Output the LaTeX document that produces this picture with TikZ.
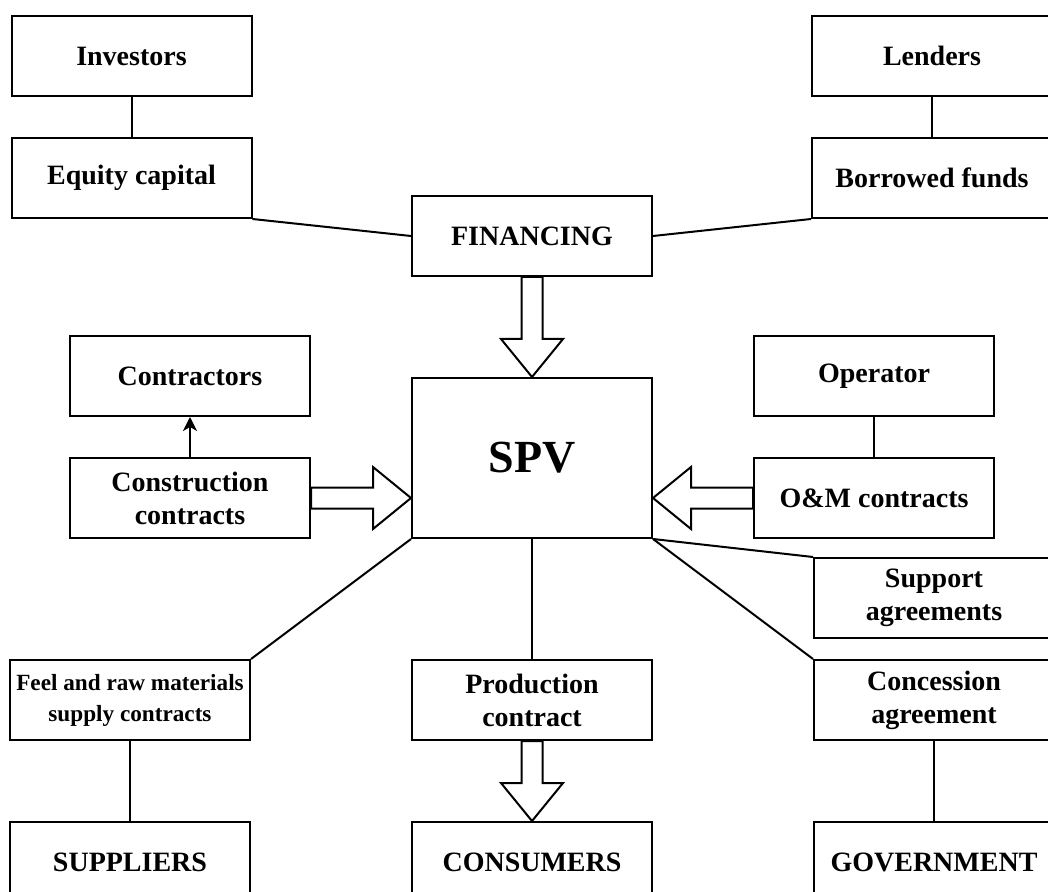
\documentclass[tikz,border=0pt]{standalone}
\usepackage{fontspec}
\setmainfont{Liberation Serif}
\usetikzlibrary{positioning,calc,arrows.meta}

\begin{document}
\begin{tikzpicture}[
        box/.style={rectangle, draw, line width=1pt, minimum width=120pt, minimum height=40pt, align=center, font=\bfseries\fontsize{14}{16.5}\selectfont},
        link/.style={line width=1pt},
        arrow/.style={-{Stealth[length=7pt, width=7pt, inset=2pt]}, line width=1pt},
        fat/.style={draw, fill=white, line width=1pt, to path={
            let \p1=(\tikztostart), \p2=(\tikztotarget),
                \n1={veclen(\x2-\x1,\y2-\y1)},
                \n2={(\x2-\x1)/\n1}, \n3={(\y2-\y1)/\n1}
            in ({\x1-(\n3)*5.25},{\y1+(\n2)*5.25})
            -- ({\x2-(\n2)*19-(\n3)*5.25},{\y2-(\n3)*19+(\n2)*5.25})
            -- ({\x2-(\n2)*19-(\n3)*15.5},{\y2-(\n3)*19+(\n2)*15.5})
            -- (\x2,\y2)
            -- ({\x2-(\n2)*19+(\n3)*15.5},{\y2-(\n3)*19-(\n2)*15.5})
            -- ({\x2-(\n2)*19+(\n3)*5.25},{\y2-(\n3)*19-(\n2)*5.25})
            -- ({\x1+(\n3)*5.25},{\y1-(\n2)*5.25}) -- cycle}}
    ]
        \useasboundingbox (0,0) rectangle (524pt,-446pt);
        \clip (0,0) rectangle (524pt,-446pt);
        % Financing
        \node[box] (inv) at (65.75pt,-28pt) {Investors};
        \node[box, below=20pt of inv] (equity) {Equity capital};
        \node[box] (lend) at (466pt,-28pt) {Lenders};
        \node[box, below=20pt of lend] (borrow) {Borrowed funds};
        \node[box] (fin) at (266pt,-118pt) {FINANCING};
        % SPV
        \node[box, below=50pt of fin, minimum height=80pt, font=\bfseries\fontsize{23}{27}\selectfont] (spv) {SPV};
        % Construction and operation
        \node[box, left=50pt of spv.south west, anchor=south east] (constr) {Construction\\contracts};
        \node[box, above=20pt of constr] (contr) {Contractors};
        \node[box, right=50pt of spv.south east, anchor=south west] (om) {O\&M contracts};
        \node[box, above=20pt of om] (oper) {Operator};
        % Contracts
        \node[box, below=60pt of spv] (prod) {Production\\contract};
        \node[box, left=80pt of prod, inner xsep=0pt, font=\bfseries\fontsize{11.6}{15.5}\selectfont] (feel) {Feel and raw materials\\supply contracts};
        \node[box, right=80pt of prod] (conc) {Concession\\agreement};
        \node[box, above=10pt of conc] (support) {Support\\agreements};
        % Parties
        \node[box, below=40pt of feel] (suppl) {SUPPLIERS};
        \node[box, below=40pt of prod] (consum) {CONSUMERS};
        \node[box, below=40pt of conc] (gov) {GOVERNMENT};
        % Links
        \draw[link] (inv) -- (equity);
        \draw[link] (lend) -- (borrow);
        \draw[link] (equity.south east) -- (fin.west);
        \draw[link] (borrow.south west) -- (fin.east);
        \draw[arrow] (constr) -- (contr);
        \draw[link] (oper) -- (om);
        \draw[link] (spv.south east) -- (support.north west);
        \draw[link] (spv.south east) -- (conc.north west);
        \draw[link] (spv.south west) -- (feel.north east);
        \draw[link] (spv) -- (prod);
        \draw[link] (feel) -- (suppl);
        \draw[link] (conc) -- (gov);
        % Big arrows
        \draw[fat] (fin.south) to (spv.north);
        \draw[fat] (constr.east) to (constr.east -| spv.west);
        \draw[fat] (om.west) to (om.west -| spv.east);
        \draw[fat] (prod.south) to (consum.north);
    \end{tikzpicture}
\end{document}
